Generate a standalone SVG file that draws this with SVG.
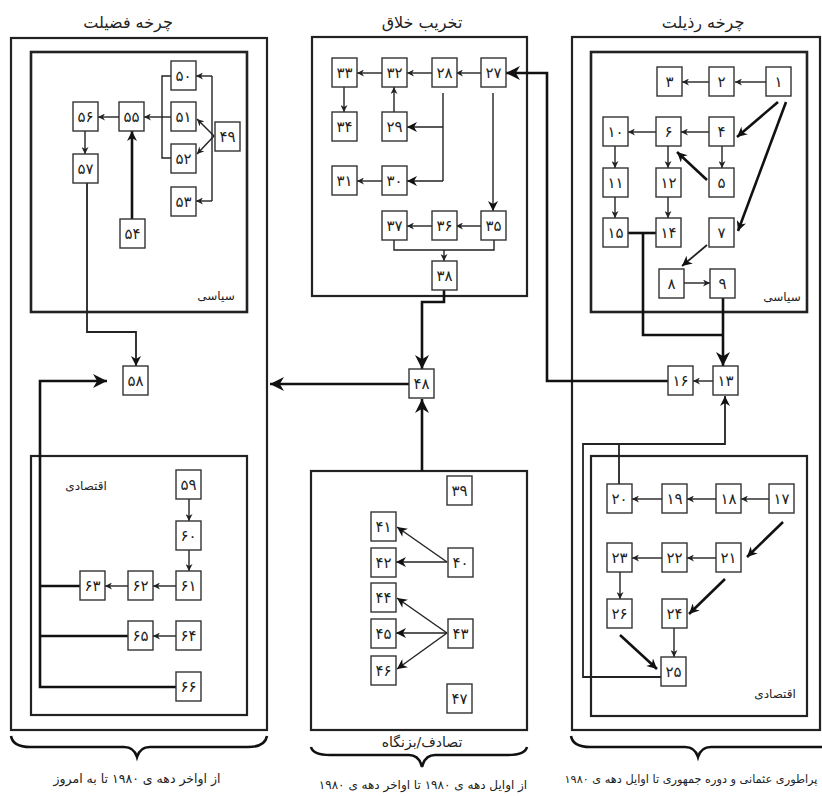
<svg xmlns="http://www.w3.org/2000/svg" width="822" height="796" viewBox="0 0 822 796">
<style>
.bg{fill:#fff}
.panel{fill:none;stroke:#222;stroke-width:2.2}
.inner{fill:none;stroke:#222;stroke-width:2.6}
.box{fill:#fff;stroke:#333;stroke-width:1.4}
.num{font-family:"DejaVu Sans",sans-serif;font-size:15px;fill:#222;text-anchor:middle}
.title{font-family:"DejaVu Sans",sans-serif;font-size:16px;fill:#222;text-anchor:middle}
.lab{font-family:"DejaVu Sans",sans-serif;font-size:12px;fill:#222}
.cap{font-family:"DejaVu Sans",sans-serif;font-size:12.5px;fill:#222;text-anchor:middle}
.thin{fill:none;stroke:#222;stroke-width:1.4}
.mid{fill:none;stroke:#222;stroke-width:1.8}
.thick{fill:none;stroke:#111;stroke-width:2.6}
.brace{fill:none;stroke:#111;stroke-width:2.6}
</style>
<defs>
<marker id="s" viewBox="0 0 10 10" refX="10" refY="5" markerWidth="8" markerHeight="7" markerUnits="userSpaceOnUse" orient="auto"><path d="M0,0 L10,5 L0,10 L3,5 z" fill="#222"/></marker>
<marker id="m" viewBox="0 0 10 10" refX="10" refY="5" markerWidth="11" markerHeight="10" markerUnits="userSpaceOnUse" orient="auto"><path d="M0,0 L10,5 L0,10 L3,5 z" fill="#111"/></marker>
<marker id="b" viewBox="0 0 10 10" refX="10" refY="5" markerWidth="15" markerHeight="14" markerUnits="userSpaceOnUse" orient="auto"><path d="M0,0 L10,5 L0,10 L3,5 z" fill="#111"/></marker>
</defs>
<rect class="bg" x="0" y="0" width="822" height="796"/>

<g id="panels">
<rect class="panel" x="11" y="38" width="256" height="692"/>
<rect class="inner" x="31" y="52" width="216" height="260"/>
<rect class="panel" x="31" y="456" width="216" height="259"/>
<rect class="panel" x="312" y="37" width="215" height="259"/>
<rect class="panel" x="311" y="471" width="216" height="259"/>
<rect class="panel" x="572" y="37" width="248" height="693"/>
<rect class="inner" x="591" y="52" width="216" height="260"/>
<rect class="panel" x="591" y="456" width="216" height="260"/>
</g>

<g id="labels">
<text class="title" x="128" y="28">چرخه فضیلت</text>
<text class="title" x="422" y="28">تخریب خلاق</text>
<text class="title" x="703" y="28">چرخه رذیلت</text>
<text class="lab" x="216" y="300" text-anchor="middle">سیاسی</text>
<text class="lab" x="782" y="301" text-anchor="middle">سیاسی</text>
<text class="lab" x="86" y="490" text-anchor="middle">اقتصادی</text>
<text class="lab" x="775" y="698" text-anchor="middle">اقتصادی</text>
<text class="title" x="422" y="747" style="font-size:14px">تصادف/بزنگاه</text>
<text class="cap" x="137" y="783">از اواخر دهه ی ۱۹۸۰ تا به امروز</text>
<text class="cap" x="423" y="789" style="font-size:12px">از اوایل دهه ی ۱۹۸۰ تا اواخر دهه ی ۱۹۸۰</text>
<text class="cap" x="691" y="783" style="font-size:11.3px">پراطوری عثمانی و دوره جمهوری تا اوایل دهه ی ۱۹۸۰</text>
</g>

<g id="braces">
<path class="brace" d="M11,736 Q13,747 30,747 L124,747 Q134,747 137,757 Q140,747 150,747 L248,747 Q265,747 267,736"/>
<path class="brace" d="M311,747 Q313,755 330,755 L409,755 Q419,755 422,767 Q425,755 435,755 L508,755 Q525,755 527,747"/>
<path class="brace" d="M571,736 Q573,747 590,747 L685,747 Q695,747 698,757 Q701,747 711,747 L822,747"/>
</g>

<g id="connectors">
<path class="thin" d="M171,76 H162 V158 H171"/>
<path class="thin" d="M171,117 H144" marker-end="url(#s)"/>
<path class="thin" d="M212,76 V201"/>
<path class="thin" d="M212,76 H196" marker-end="url(#s)"/>
<path class="thin" d="M212,201 H196" marker-end="url(#s)"/>
<path class="thin" d="M214,136 L197,119" marker-end="url(#s)"/>
<path class="thin" d="M214,136 L197,154" marker-end="url(#s)"/>
<path class="thin" d="M119,117 H98" marker-end="url(#s)"/>
<path class="thin" d="M85,131 V154" marker-end="url(#s)"/>
<path class="thick" d="M132,219 V131" marker-end="url(#m)"/>
<path class="mid" d="M87,183 V332 H136 V366" marker-end="url(#m)"/>
<path class="thick" d="M176,687 H40 V381 H107" marker-end="url(#b)"/>
<path class="thick" d="M80,586 H40"/>
<path class="thick" d="M128,636 H40"/>
<path class="thin" d="M189,499 V521" marker-end="url(#s)"/>
<path class="thin" d="M189,550 V571" marker-end="url(#s)"/>
<path class="thin" d="M176,586 H153" marker-end="url(#s)"/>
<path class="thin" d="M128,586 H105" marker-end="url(#s)"/>
<path class="thin" d="M176,636 H153" marker-end="url(#s)"/>
<path class="thin" d="M481,73 H456" marker-end="url(#s)"/>
<path class="thin" d="M432,73 H407" marker-end="url(#s)"/>
<path class="thin" d="M382,73 H357" marker-end="url(#s)"/>
<path class="thin" d="M344,87 V112" marker-end="url(#s)"/>
<path class="thin" d="M394,112 V87" marker-end="url(#s)"/>
<path class="thin" d="M443,93 V181"/>
<path class="thin" d="M443,127 H407" marker-end="url(#m)"/>
<path class="thin" d="M443,181 H407" marker-end="url(#m)"/>
<path class="thin" d="M382,181 H357" marker-end="url(#s)"/>
<path class="thin" d="M493,93 V211" marker-end="url(#m)"/>
<path class="thin" d="M481,226 H456" marker-end="url(#s)"/>
<path class="thin" d="M432,226 H407" marker-end="url(#s)"/>
<path class="thin" d="M394,240 V250 H494 V240"/>
<path class="thin" d="M444,250 V261" marker-end="url(#s)"/>
<path class="thick" d="M444,290 V302 H422 V369" marker-end="url(#b)"/>
<path class="thick" d="M409,384 H270" marker-end="url(#b)"/>
<path class="thick" d="M422,471 V399" marker-end="url(#b)"/>
<path class="thin" d="M447,562 L397,527" marker-end="url(#m)"/>
<path class="thin" d="M447,562 H396" marker-end="url(#m)"/>
<path class="thin" d="M447,633 L397,598" marker-end="url(#m)"/>
<path class="thin" d="M447,633 H396" marker-end="url(#m)"/>
<path class="thin" d="M447,633 L397,669" marker-end="url(#m)"/>
<path class="thin" d="M766,82 H735" marker-end="url(#s)"/>
<path class="thin" d="M709,82 H682" marker-end="url(#s)"/>
<path class="thick" d="M778,102 L737,137" marker-end="url(#m)"/>
<path class="thick" d="M786,102 L738,231" marker-end="url(#m)"/>
<path class="thin" d="M709,132 H681" marker-end="url(#s)"/>
<path class="thin" d="M656,132 H628" marker-end="url(#s)"/>
<path class="thin" d="M722,146 V168" marker-end="url(#s)"/>
<path class="thin" d="M668,146 V168" marker-end="url(#s)"/>
<path class="thin" d="M615,146 V168" marker-end="url(#s)"/>
<path class="thick" d="M707,180 L677,152" marker-end="url(#m)"/>
<path class="thin" d="M615,197 V218" marker-end="url(#s)"/>
<path class="thin" d="M668,197 V218" marker-end="url(#s)"/>
<path class="mid" d="M707,245 L682,266" marker-end="url(#m)"/>
<path class="thin" d="M684,283 H710" marker-end="url(#s)"/>
<path class="thick" d="M628,233 H656"/>
<path class="thick" d="M643,233 V335 H723"/>
<path class="thick" d="M723,298 V366" marker-end="url(#b)"/>
<path class="thin" d="M713,381 H693" marker-end="url(#s)"/>
<path class="thick" d="M668,381 H547 V73 H506" marker-end="url(#b)"/>
<path class="mid" d="M661,677 H583 V444 H725 V396" marker-end="url(#m)"/>
<path class="mid" d="M619,484 V444"/>
<path class="thin" d="M769,499 H741" marker-end="url(#s)"/>
<path class="thin" d="M716,499 H687" marker-end="url(#s)"/>
<path class="thin" d="M662,499 H632" marker-end="url(#s)"/>
<path class="thick" d="M783,522 L747,557" marker-end="url(#m)"/>
<path class="thin" d="M716,558 H687" marker-end="url(#s)"/>
<path class="thin" d="M662,558 H632" marker-end="url(#s)"/>
<path class="thick" d="M725,579 L689,614" marker-end="url(#m)"/>
<path class="thin" d="M620,572 V599" marker-end="url(#s)"/>
<path class="thin" d="M674,628 V657" marker-end="url(#s)"/>
<path class="thick" d="M620,635 L657,669" marker-end="url(#m)"/>
</g>

<g id="nodes">
<g id="n49"><rect class="box" x="215" y="122" width="25" height="29"/><text class="num" x="227.5" y="142">۴۹</text></g>
<g id="n50"><rect class="box" x="171" y="61" width="25" height="29"/><text class="num" x="183.5" y="81">۵۰</text></g>
<g id="n51"><rect class="box" x="171" y="102" width="25" height="29"/><text class="num" x="183.5" y="122">۵۱</text></g>
<g id="n52"><rect class="box" x="171" y="144" width="25" height="29"/><text class="num" x="183.5" y="164">۵۲</text></g>
<g id="n53"><rect class="box" x="171" y="187" width="25" height="29"/><text class="num" x="183.5" y="207">۵۳</text></g>
<g id="n54"><rect class="box" x="120" y="219" width="25" height="29"/><text class="num" x="132.5" y="239">۵۴</text></g>
<g id="n55"><rect class="box" x="119" y="102" width="25" height="29"/><text class="num" x="131.5" y="122">۵۵</text></g>
<g id="n56"><rect class="box" x="73" y="102" width="25" height="29"/><text class="num" x="85.5" y="122">۵۶</text></g>
<g id="n57"><rect class="box" x="73" y="154" width="25" height="29"/><text class="num" x="85.5" y="174">۵۷</text></g>
<g id="n58"><rect class="box" x="123" y="366" width="25" height="29"/><text class="num" x="135.5" y="386">۵۸</text></g>
<g id="n59"><rect class="box" x="176" y="470" width="25" height="29"/><text class="num" x="188.5" y="490">۵۹</text></g>
<g id="n60"><rect class="box" x="176" y="521" width="25" height="29"/><text class="num" x="188.5" y="541">۶۰</text></g>
<g id="n61"><rect class="box" x="176" y="571" width="25" height="29"/><text class="num" x="188.5" y="591">۶۱</text></g>
<g id="n62"><rect class="box" x="128" y="571" width="25" height="29"/><text class="num" x="140.5" y="591">۶۲</text></g>
<g id="n63"><rect class="box" x="80" y="571" width="25" height="29"/><text class="num" x="92.5" y="591">۶۳</text></g>
<g id="n64"><rect class="box" x="176" y="621" width="25" height="29"/><text class="num" x="188.5" y="641">۶۴</text></g>
<g id="n65"><rect class="box" x="128" y="621" width="25" height="29"/><text class="num" x="140.5" y="641">۶۵</text></g>
<g id="n66"><rect class="box" x="176" y="672" width="25" height="29"/><text class="num" x="188.5" y="692">۶۶</text></g>

<g id="n27"><rect class="box" x="481" y="58" width="25" height="29"/><text class="num" x="493.5" y="78">۲۷</text></g>
<g id="n28"><rect class="box" x="432" y="58" width="25" height="29"/><text class="num" x="444.5" y="78">۲۸</text></g>
<g id="n32"><rect class="box" x="382" y="58" width="25" height="29"/><text class="num" x="394.5" y="78">۳۲</text></g>
<g id="n33"><rect class="box" x="332" y="58" width="25" height="29"/><text class="num" x="344.5" y="78">۳۳</text></g>
<g id="n34"><rect class="box" x="332" y="112" width="25" height="29"/><text class="num" x="344.5" y="132">۳۴</text></g>
<g id="n29"><rect class="box" x="382" y="112" width="25" height="29"/><text class="num" x="394.5" y="132">۲۹</text></g>
<g id="n31"><rect class="box" x="332" y="166" width="25" height="29"/><text class="num" x="344.5" y="186">۳۱</text></g>
<g id="n30"><rect class="box" x="382" y="166" width="25" height="29"/><text class="num" x="394.5" y="186">۳۰</text></g>
<g id="n35"><rect class="box" x="481" y="211" width="25" height="29"/><text class="num" x="493.5" y="231">۳۵</text></g>
<g id="n36"><rect class="box" x="432" y="211" width="25" height="29"/><text class="num" x="444.5" y="231">۳۶</text></g>
<g id="n37"><rect class="box" x="382" y="211" width="25" height="29"/><text class="num" x="394.5" y="231">۳۷</text></g>
<g id="n38"><rect class="box" x="432" y="261" width="25" height="29"/><text class="num" x="444.5" y="281">۳۸</text></g>
<g id="n48"><rect class="box" x="409" y="369" width="25" height="29"/><text class="num" x="421.5" y="389">۴۸</text></g>
<g id="n39"><rect class="box" x="447" y="476" width="25" height="29"/><text class="num" x="459.5" y="496">۳۹</text></g>
<g id="n40"><rect class="box" x="448" y="548" width="25" height="29"/><text class="num" x="460.5" y="568">۴۰</text></g>
<g id="n41"><rect class="box" x="371" y="512" width="25" height="29"/><text class="num" x="383.5" y="532">۴۱</text></g>
<g id="n42"><rect class="box" x="371" y="548" width="25" height="29"/><text class="num" x="383.5" y="568">۴۲</text></g>
<g id="n43"><rect class="box" x="448" y="619" width="25" height="29"/><text class="num" x="460.5" y="639">۴۳</text></g>
<g id="n44"><rect class="box" x="371" y="583" width="25" height="29"/><text class="num" x="383.5" y="603">۴۴</text></g>
<g id="n45"><rect class="box" x="371" y="619" width="25" height="29"/><text class="num" x="383.5" y="639">۴۵</text></g>
<g id="n46"><rect class="box" x="371" y="656" width="25" height="29"/><text class="num" x="383.5" y="676">۴۶</text></g>
<g id="n47"><rect class="box" x="447" y="684" width="25" height="29"/><text class="num" x="459.5" y="704">۴۷</text></g>

<g id="n1"><rect class="box" x="766" y="67" width="25" height="29"/><text class="num" x="778.5" y="87">۱</text></g>
<g id="n2"><rect class="box" x="709" y="67" width="25" height="29"/><text class="num" x="721.5" y="87">۲</text></g>
<g id="n3"><rect class="box" x="657" y="67" width="25" height="29"/><text class="num" x="669.5" y="87">۳</text></g>
<g id="n4"><rect class="box" x="709" y="117" width="25" height="29"/><text class="num" x="721.5" y="137">۴</text></g>
<g id="n5"><rect class="box" x="709" y="168" width="25" height="29"/><text class="num" x="721.5" y="188">۵</text></g>
<g id="n6"><rect class="box" x="656" y="117" width="25" height="29"/><text class="num" x="668.5" y="137">۶</text></g>
<g id="n7"><rect class="box" x="709" y="218" width="25" height="29"/><text class="num" x="721.5" y="238">۷</text></g>
<g id="n8"><rect class="box" x="659" y="269" width="25" height="29"/><text class="num" x="671.5" y="289">۸</text></g>
<g id="n9"><rect class="box" x="710" y="269" width="25" height="29"/><text class="num" x="722.5" y="289">۹</text></g>
<g id="n10"><rect class="box" x="603" y="117" width="25" height="29"/><text class="num" x="615.5" y="137">۱۰</text></g>
<g id="n11"><rect class="box" x="603" y="168" width="25" height="29"/><text class="num" x="615.5" y="188">۱۱</text></g>
<g id="n12"><rect class="box" x="656" y="168" width="25" height="29"/><text class="num" x="668.5" y="188">۱۲</text></g>
<g id="n13"><rect class="box" x="713" y="366" width="25" height="29"/><text class="num" x="725.5" y="386">۱۳</text></g>
<g id="n14"><rect class="box" x="656" y="218" width="25" height="29"/><text class="num" x="668.5" y="238">۱۴</text></g>
<g id="n15"><rect class="box" x="603" y="218" width="25" height="29"/><text class="num" x="615.5" y="238">۱۵</text></g>
<g id="n16"><rect class="box" x="668" y="366" width="25" height="29"/><text class="num" x="680.5" y="386">۱۶</text></g>
<g id="n17"><rect class="box" x="769" y="484" width="25" height="29"/><text class="num" x="781.5" y="504">۱۷</text></g>
<g id="n18"><rect class="box" x="716" y="484" width="25" height="29"/><text class="num" x="728.5" y="504">۱۸</text></g>
<g id="n19"><rect class="box" x="662" y="484" width="25" height="29"/><text class="num" x="674.5" y="504">۱۹</text></g>
<g id="n20"><rect class="box" x="607" y="484" width="25" height="29"/><text class="num" x="619.5" y="504">۲۰</text></g>
<g id="n21"><rect class="box" x="716" y="543" width="25" height="29"/><text class="num" x="728.5" y="563">۲۱</text></g>
<g id="n22"><rect class="box" x="662" y="543" width="25" height="29"/><text class="num" x="674.5" y="563">۲۲</text></g>
<g id="n23"><rect class="box" x="607" y="543" width="25" height="29"/><text class="num" x="619.5" y="563">۲۳</text></g>
<g id="n24"><rect class="box" x="662" y="599" width="25" height="29"/><text class="num" x="674.5" y="619">۲۴</text></g>
<g id="n25"><rect class="box" x="661" y="657" width="25" height="29"/><text class="num" x="673.5" y="677">۲۵</text></g>
<g id="n26"><rect class="box" x="607" y="599" width="25" height="29"/><text class="num" x="619.5" y="619">۲۶</text></g>
</g>
</svg>
